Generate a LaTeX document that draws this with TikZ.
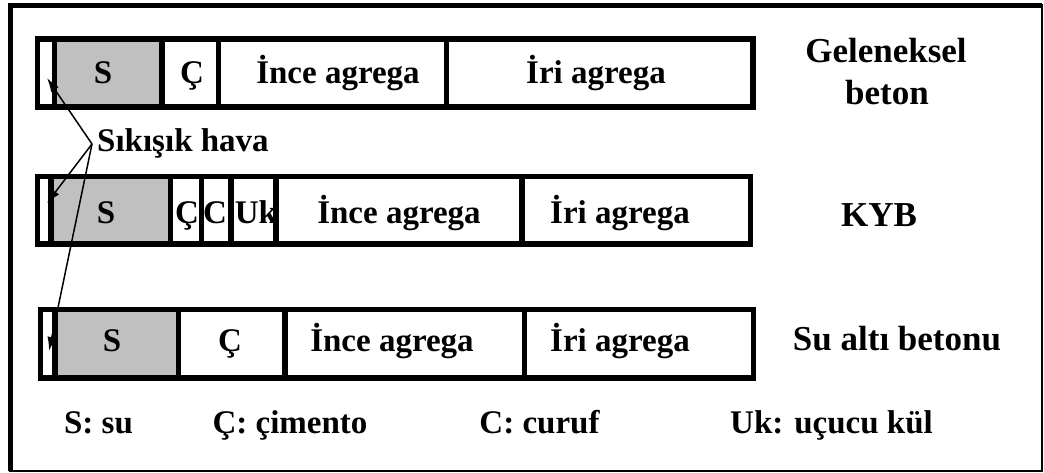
\documentclass[tikz,border=0pt]{standalone}
\usepackage{fontspec}
\setmainfont{Liberation Serif}
\usetikzlibrary{arrows.meta}
\definecolor{water}{HTML}{C0C0C0}
\newcommand{\barfont}{\fontsize{33}{40}\selectfont\bfseries}
\newcommand{\labfont}{\fontsize{35}{42}\selectfont\bfseries}
\tikzset{
  txt/.style={inner sep=0pt, anchor=base, font=\barfont},
  lab/.style={inner sep=0pt, anchor=base, font=\labfont},
  barline/.style={line width=5.5pt, line cap=rect},
  arr/.style={line width=1.5pt, -{Latex[length=14pt,width=9pt]}}
}
\begin{document}
\begin{tikzpicture}[x=1pt,y=-1pt]
\useasboundingbox (0,0) rectangle (1044,473);
% outer frame
\draw[line width=2.5pt] (10.5,5.5) rectangle (1042,471);
\draw[line width=5pt] (10.5,471) -- (10.5,5.5) -- (1042,5.5);

% ---- row 1: Geleneksel beton
\fill[water] (54.5,39) rectangle (162,107);
\node[txt] (r1s) at (103,84) {S};
\node[txt] (r1c) at (192,84) {Ç};
\node[txt] (r1i) at (338,84) {İnce agrega};
\node[txt] (r1r) at (596,84) {İri agrega};
\draw[barline] (37.5,39) rectangle (753,107);
\foreach \x in {54.5,162,218.5,446.5} \draw[barline] (\x,39) -- (\x,107);

% ---- row 2: KYB
\fill[water] (51,176.5) rectangle (170.5,244);
\node[txt] (r2s) at (106,224) {S};
\node[txt] (r2c) at (187,224) {Ç};
\node[txt] (r2cu) at (215,224) {C};
\node[txt] (r2uk) at (256,224) {Uk};
\node[txt] (r2i) at (399,224) {İnce agrega};
\node[txt] (r2r) at (620,224) {İri agrega};
\draw[barline] (37.5,176.5) rectangle (750.5,244);
\foreach \x in {51,170.5,201.5,231,276,522} \draw[barline] (\x,176.5) -- (\x,244);

% ---- row 3: Su altı betonu
\fill[water] (55,309.5) rectangle (178.5,378);
\node[txt] (r3s) at (112,351) {S};
\node[txt] (r3c) at (230,351) {Ç};
\node[txt] (r3i) at (392,351) {İnce agrega};
\node[txt] (r3r) at (620,351) {İri agrega};
\draw[barline] (40.5,309.5) rectangle (753.5,378);
\foreach \x in {55,178.5,285,524.5} \draw[barline] (\x,309.5) -- (\x,378);

% ---- right labels
\node[lab] (gel) at (886,63) {Geleneksel};
\node[lab] (bet) at (887,105) {beton};
\node[lab] (kyb) at (879,227) {KYB};
\node[lab] (sub) at (897,350) {Su altı betonu};

% ---- compressed air
\node[txt, anchor=base west] (hava) at (97,152) {Sıkışık hava};
\coordinate (hs) at (92,144);
\coordinate (air1) at (47,78);
\coordinate (air2) at (47,203);
\coordinate (air3) at (49,351);
\draw[arr] (hs) -- (air1);
\draw[arr] (hs) -- (air2);
\draw[arr] (hs) -- (air3);

% ---- legend
\node[txt] (lg1) at (98.5,433) {S: su};
\node[txt] (lg2) at (290,433) {Ç: çimento};
\node[txt] (lg3) at (539.5,433) {C: curuf};
\node[txt] (lg4) at (831.5,433) {Uk: uçucu kül};
\end{tikzpicture}
\end{document}
